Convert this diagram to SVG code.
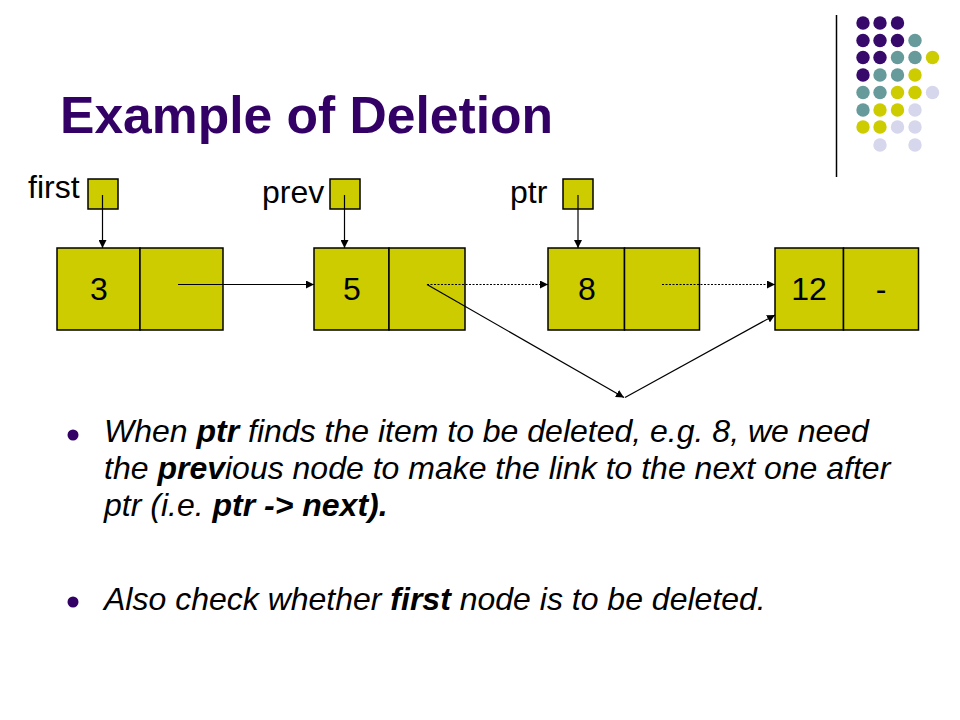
<svg xmlns="http://www.w3.org/2000/svg" width="960" height="720" viewBox="0 0 960 720">
<style>
.t{font-family:"Liberation Sans",Arial,sans-serif;fill:#000}
.title{font-family:"Liberation Sans",Arial,sans-serif;font-weight:bold;font-size:51.6px;fill:#330066}
.lbl{font-size:32px}
.num{font-size:32px;text-anchor:middle}
.body{font-size:32px;font-style:italic}
.b{font-weight:bold}
.cell{fill:#cccc00;stroke:#000;stroke-width:1.5}
.ln{stroke:#000;stroke-width:1.2;fill:none}
.dot{stroke:#000;stroke-width:1;stroke-dasharray:2 1.5;fill:none}
.P{fill:#36096b}.T{fill:#679a9a}.Y{fill:#cccc00}.L{fill:#d6d6ec}
</style>
<defs>
<marker id="ah" viewBox="0 0 10 10" refX="10" refY="5" markerWidth="8" markerHeight="8" markerUnits="userSpaceOnUse" orient="auto">
<path d="M0,0 L10,5 L0,10 z" fill="#000"/>
</marker>
</defs>
<rect width="960" height="720" fill="#fff"/>
<g id="decor">
<line x1="836.5" y1="15" x2="836.5" y2="177" stroke="#000" stroke-width="1.5"/>
<g>
<circle class="P" cx="863" cy="23" r="6.7"/><circle class="P" cx="880" cy="23" r="6.7"/><circle class="P" cx="897.5" cy="23" r="6.7"/>
<circle class="P" cx="863" cy="40.5" r="6.7"/><circle class="P" cx="880" cy="40.5" r="6.7"/><circle class="P" cx="897.5" cy="40.5" r="6.7"/><circle class="T" cx="915" cy="40.5" r="6.7"/>
<circle class="P" cx="863" cy="57.5" r="6.7"/><circle class="P" cx="880" cy="57.5" r="6.7"/><circle class="T" cx="897.5" cy="57.5" r="6.7"/><circle class="T" cx="915" cy="57.5" r="6.7"/><circle class="Y" cx="932.5" cy="57.5" r="6.7"/>
<circle class="P" cx="863" cy="75" r="6.7"/><circle class="T" cx="880" cy="75" r="6.7"/><circle class="T" cx="897.5" cy="75" r="6.7"/><circle class="Y" cx="915" cy="75" r="6.7"/>
<circle class="T" cx="863" cy="92.5" r="6.7"/><circle class="T" cx="880" cy="92.5" r="6.7"/><circle class="Y" cx="897.5" cy="92.5" r="6.7"/><circle class="Y" cx="915" cy="92.5" r="6.7"/><circle class="L" cx="932.5" cy="92.5" r="6.7"/>
<circle class="T" cx="863" cy="110" r="6.7"/><circle class="Y" cx="880" cy="110" r="6.7"/><circle class="Y" cx="897.5" cy="110" r="6.7"/><circle class="L" cx="915" cy="110" r="6.7"/>
<circle class="Y" cx="863" cy="127" r="6.7"/><circle class="Y" cx="880" cy="127" r="6.7"/><circle class="L" cx="897.5" cy="127" r="6.7"/><circle class="L" cx="915" cy="127" r="6.7"/>
<circle class="L" cx="880" cy="145" r="6.7"/><circle class="L" cx="915" cy="145" r="6.7"/>
</g>
</g>
<text class="title" x="60" y="133">Example of Deletion</text>

<g id="ptr-first">
<text class="t lbl" x="28" y="198">first</text>
<rect class="cell" x="88" y="179" width="30" height="30"/>
</g>
<g id="ptr-prev">
<text class="t lbl" x="262" y="203">prev</text>
<rect class="cell" x="330" y="179" width="30" height="30"/>
</g>
<g id="ptr-ptr">
<text class="t lbl" x="510" y="203">ptr</text>
<rect class="cell" x="563" y="179" width="30" height="30"/>
</g>

<g id="node3">
<rect class="cell" x="57" y="248" width="83" height="82"/>
<rect class="cell" x="140" y="248" width="83" height="82"/>
<text class="t num" x="99" y="300">3</text>
</g>
<g id="node5">
<rect class="cell" x="314" y="248" width="75" height="82"/>
<rect class="cell" x="389" y="248" width="76" height="82"/>
<text class="t num" x="352" y="300">5</text>
</g>
<g id="node8">
<rect class="cell" x="548" y="248" width="76.5" height="82"/>
<rect class="cell" x="624.5" y="248" width="75" height="82"/>
<text class="t num" x="587" y="300">8</text>
</g>
<g id="node12">
<rect class="cell" x="775" y="248" width="68.5" height="82"/>
<rect class="cell" x="843.5" y="248" width="75" height="82"/>
<text class="t num" x="809" y="300">12</text>
<text class="t num" x="881" y="300">-</text>
</g>

<g id="connectors">
<line class="ln" x1="102.5" y1="195" x2="102.5" y2="248" marker-end="url(#ah)"/>
<line class="ln" x1="344.5" y1="195" x2="344.5" y2="248" marker-end="url(#ah)"/>
<line class="ln" x1="578" y1="195" x2="578" y2="248" marker-end="url(#ah)"/>
<line class="ln" x1="178" y1="284.5" x2="314" y2="284.5" marker-end="url(#ah)"/>
<line class="dot" x1="427" y1="284.5" x2="548" y2="284.5" marker-end="url(#ah)"/>
<line class="dot" x1="662" y1="284.5" x2="775" y2="284.5" marker-end="url(#ah)"/>
<line class="ln" x1="427" y1="284.5" x2="624" y2="397.5" marker-end="url(#ah)"/>
<line class="ln" x1="625" y1="397.5" x2="775" y2="315" marker-end="url(#ah)"/>
</g>

<g id="bullets">
<circle cx="73" cy="435" r="5.5" fill="#330066"/>
<circle cx="73" cy="602" r="5.5" fill="#330066"/>
<text class="t body" x="104" y="442">When <tspan class="b">ptr</tspan> finds the item to be deleted, e.g. 8, we need</text>
<text class="t body" x="104" y="479">the <tspan class="b">prev</tspan>ious node to make the link to the next one after</text>
<text class="t body" x="104" y="516">ptr (i.e. <tspan class="b">ptr -&gt; next).</tspan></text>
<text class="t body" x="104" y="610">Also check whether <tspan class="b">first</tspan> node is to be deleted.</text>
</g>
</svg>
